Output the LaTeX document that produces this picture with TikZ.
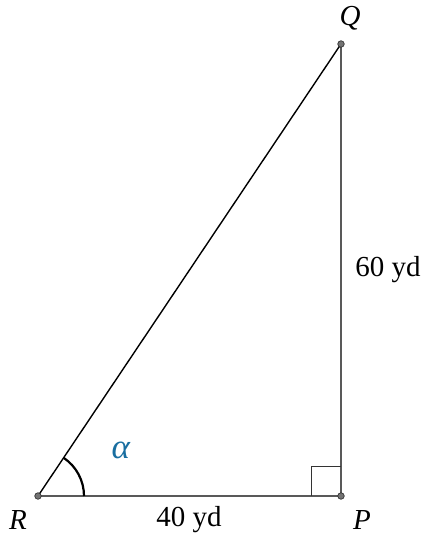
\documentclass[tikz,border=0pt]{standalone}
\usepackage{fontspec}
\setmainfont{Liberation Serif}
\begin{document}
\begin{tikzpicture}[x=1pt,y=-1pt,
  pt/.style={circle,draw=black!80,fill=black!55,line width=0.7pt,inner sep=0pt,minimum size=6.5pt},
  lbl/.style={font=\fontsize{29}{32}\selectfont},
  side/.style={line width=1.4pt}]
\useasboundingbox (0,0) rectangle (424,538);
\coordinate (R) at (38,496);
\coordinate (P) at (341,496);
\coordinate (Q) at (341,44);
\draw[side] (R) -- (P) -- (Q) -- cycle;
\draw[line width=1pt,black!80] (311,496) -- (311,466) -- (341,466);
\draw[line width=2.2pt] ([shift={(0:46)}]R) arc[start angle=0,end angle=-56.2,radius=46];
\node[pt] (r) at (R) {};
\node[pt] (p) at (P) {};
\node[pt] (q) at (Q) {};
\node[lbl] (lr) at (18,520) {\textit{R}};
\node[lbl] (lp) at (362,520) {\textit{P}};
\node[lbl] (lq) at (350,18) {\textit{Q}};
\node[lbl] (l40) at (189,520) {40 yd};
\node[lbl] (l60) at (388,270) {60 yd};
\node[lbl,font=\fontsize{35}{38}\selectfont,text={rgb,255:red,25;green,110;blue,160}] (la) at (121,450) {\textit{α}};
\end{tikzpicture}
\end{document}
